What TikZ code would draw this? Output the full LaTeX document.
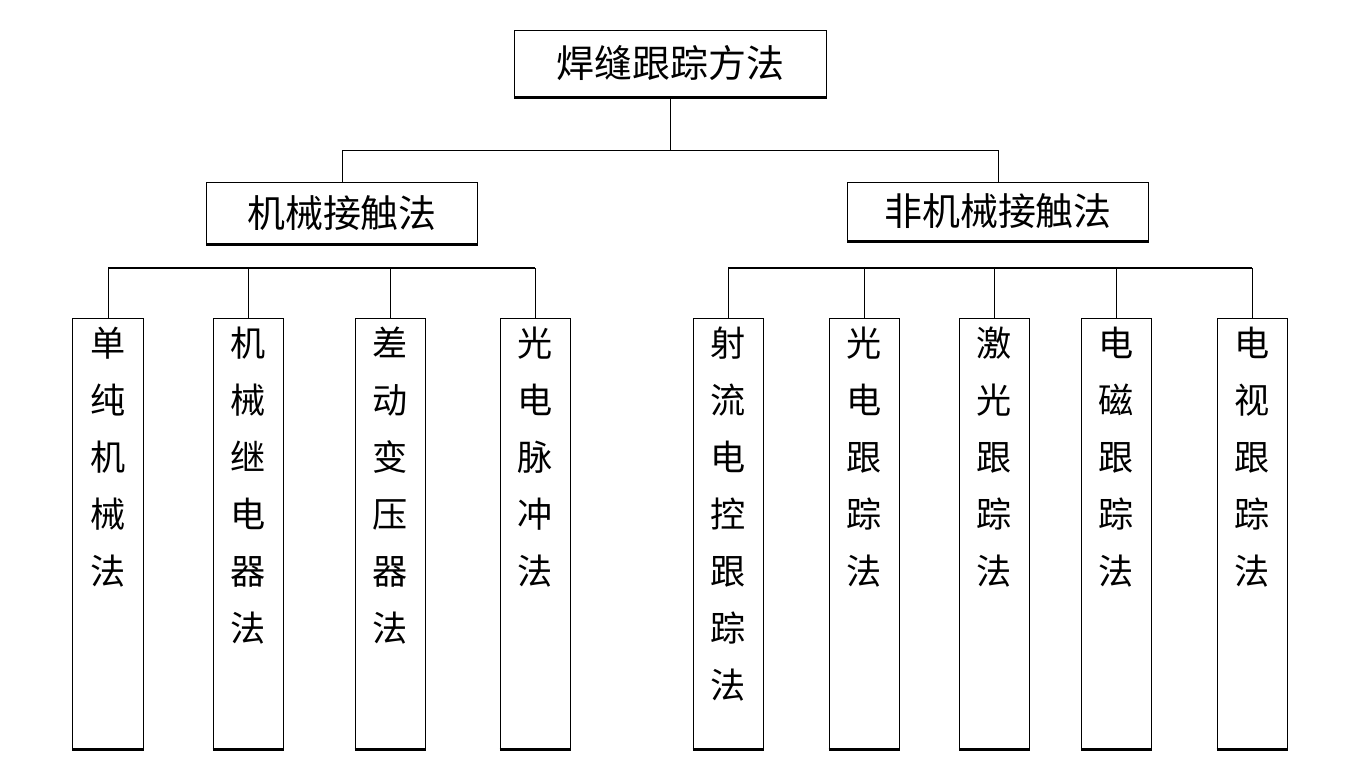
\documentclass[tikz,border=0pt]{standalone}
\usepackage{fontspec}
\newfontfamily\cjk{Noto Sans CJK SC}
\usetikzlibrary{positioning}

\begin{document}
\begin{tikzpicture}[x=0.025cm,y=-0.025cm]
        \tikzstyle{box}=[draw,line width=0.7pt,inner sep=0pt,font=\cjk\fontsize{27}{27}\selectfont,
          append after command={(\tikzlastnode.south west) edge[line width=2pt] (\tikzlastnode.south east)}]
        \tikzstyle{leaf}=[box,minimum width=1.75cm,minimum height=10.75cm,anchor=north]
        \tikzstyle{leaftext}=[anchor=north,align=center,inner sep=0pt,yshift=-0.22cm,font=\cjk\fontsize{25}{40.5}\selectfont]
        \tikzstyle{link}=[line width=0.7pt]
        \tikzstyle{bus}=[line width=2pt]
        \useasboundingbox (0,0) rectangle (1360,771);

        \node[box,minimum width=7.775cm,minimum height=1.675cm] (root) at (670.5,63.5) {焊缝跟踪方法};
        \node[box,minimum width=6.75cm,minimum height=1.55cm] (mech) at (342,213) {机械接触法};
        \node[box,minimum width=7.5cm,minimum height=1.475cm] (nonmech) at (998,211.5) {非机械接触法};

        \draw[link] (root.south) -- ++(0,53) -| (mech.north);
        \draw[link] (root.south) -- ++(0,53) -| (nonmech.north);

        % contact methods
        \node[leaf,label={[leaftext]north:{单\\纯\\机\\械\\法}}] (a1) at (108,318) {};
        \node[leaf,label={[leaftext]north:{机\\械\\继\\电\\器\\法}}] (a2) at (248,318) {};
        \node[leaf,label={[leaftext]north:{差\\动\\变\\压\\器\\法}}] (a3) at (390,318) {};
        \node[leaf,label={[leaftext]north:{光\\电\\脉\\冲\\法}}] (a4) at (535,318) {};

        % non-contact methods
        \node[leaf,label={[leaftext]north:{射\\流\\电\\控\\跟\\踪\\法}}] (b1) at (728,318) {};
        \node[leaf,label={[leaftext]north:{光\\电\\跟\\踪\\法}}] (b2) at (864,318) {};
        \node[leaf,label={[leaftext]north:{激\\光\\跟\\踪\\法}}] (b3) at (994.5,318) {};
        \node[leaf,label={[leaftext]north:{电\\磁\\跟\\踪\\法}}] (b4) at (1116.5,318) {};
        \node[leaf,label={[leaftext]north:{电\\视\\跟\\踪\\法}}] (b5) at (1252,318) {};

        \coordinate (bus) at (0,268);
        \draw[bus] (a1.north |- bus) -- (a4.north |- bus);
        \draw[bus] (b1.north |- bus) -- (b5.north |- bus);
        \foreach \n in {a1,a2,a3,a4,b1,b2,b3,b4,b5}
          \draw[link] (\n.north) -- (\n.north |- bus);
\end{tikzpicture}
\end{document}
